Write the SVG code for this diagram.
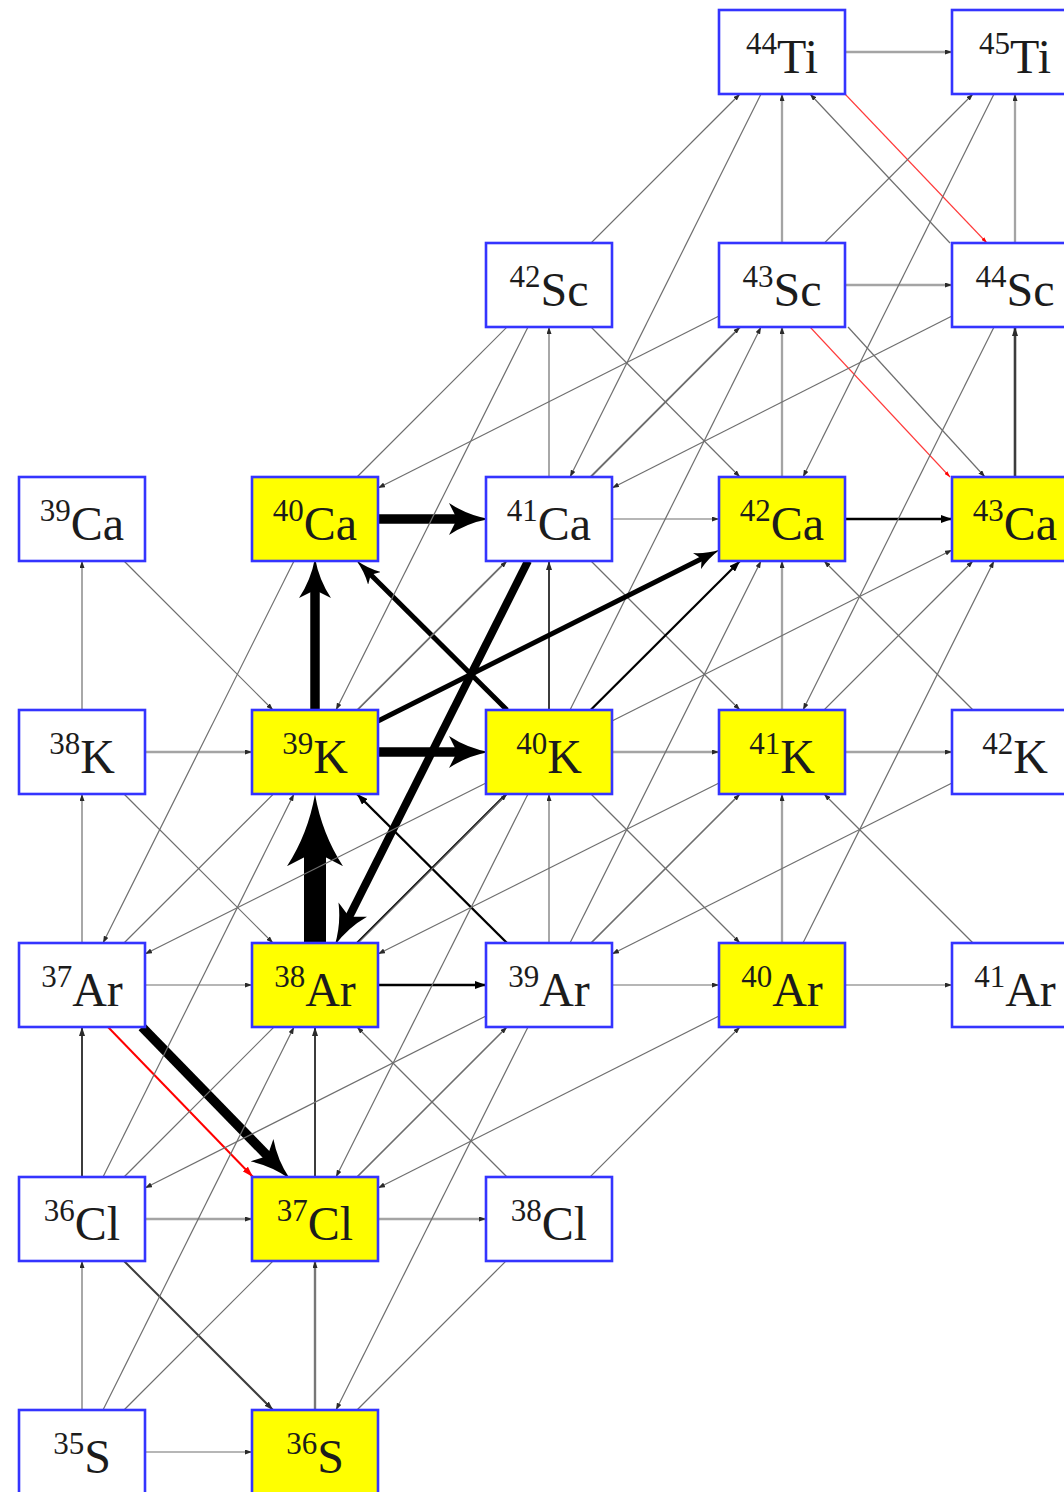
<svg xmlns="http://www.w3.org/2000/svg" width="1064" height="1492" viewBox="0 0 1064 1492">
  <style>
    .node rect { stroke: #3434ff; stroke-width: 2.6; }
    .w rect { fill: #ffffff; }
    .y rect { fill: #ffff00; }
    .node text { font-family: "Liberation Serif", "DejaVu Serif", serif; fill: #1c1c1c; text-anchor: middle; }
    .s { font-size: 31px; }
    .e { font-size: 48px; }
    #connectors path { fill: none; }
    .t  { stroke: #6e6e6e; stroke-width: 1.2; marker-end: url(#a); }
    .l  { stroke: #a4a4a4; stroke-width: 2.3; marker-end: url(#a); }
    .m  { stroke: #777777; stroke-width: 2.4; marker-end: url(#a); }
    .d  { stroke: #3c3c3c; stroke-width: 2; marker-end: url(#ad); }
    .k  { stroke: #000000; stroke-width: 2.4; marker-end: url(#ak); }
    .k1 { stroke: #000000; stroke-width: 5; marker-end: url(#h1); }
    .k2 { stroke: #000000; stroke-width: 9.5; marker-end: url(#h2); }
    .k2b { stroke: #000000; stroke-width: 8; marker-end: url(#h2); }
    .k3 { stroke: #000000; stroke-width: 22; marker-end: url(#h3); }
    .r  { stroke: #ff3a3a; stroke-width: 1.1; marker-end: url(#ar); }
    .r2 { stroke: #ff0000; stroke-width: 2; marker-end: url(#ar2); }
  </style>
  <defs>
    <!-- small heads for thin flows -->
    <marker id="a" viewBox="0 0 7 5" refX="7" refY="2.5" markerWidth="7" markerHeight="5" markerUnits="userSpaceOnUse" orient="auto">
      <path d="M0,0 L7,2.5 L0,5 Z" fill="#2a2a2a"/>
    </marker>
    <marker id="ad" viewBox="0 0 9 6" refX="9" refY="3" markerWidth="9" markerHeight="6" markerUnits="userSpaceOnUse" orient="auto">
      <path d="M0,0 L9,3 L0,6 Z" fill="#2a2a2a"/>
    </marker>
    <marker id="ak" viewBox="0 0 11 8" refX="11" refY="4" markerWidth="11" markerHeight="8" markerUnits="userSpaceOnUse" orient="auto">
      <path d="M0,0 L11,4 L0,8 Z" fill="#000"/>
    </marker>
    <marker id="ar" viewBox="0 0 6 4" refX="6" refY="2" markerWidth="6" markerHeight="4" markerUnits="userSpaceOnUse" orient="auto">
      <path d="M0,0 L6,2 L0,4 Z" fill="#ff0000"/>
    </marker>
    <marker id="ar2" viewBox="0 0 11 7" refX="11" refY="3.5" markerWidth="11" markerHeight="7" markerUnits="userSpaceOnUse" orient="auto">
      <path d="M0,0 L11,3.5 L0,7 Z" fill="#ff0000"/>
    </marker>
    <!-- stealth heads for strong flows; the shaft ends inside the head -->
    <marker id="h1" viewBox="0 0 26 18" refX="9.1" refY="9" markerWidth="26" markerHeight="18" markerUnits="userSpaceOnUse" orient="auto">
      <path d="M26,9 Q11.7,6.75 0,0 L5.2,9 L0,18 Q11.7,11.25 26,9 Z" fill="#000"/>
    </marker>
    <marker id="h2" viewBox="0 0 40 32" refX="14" refY="16" markerWidth="40" markerHeight="32" markerUnits="userSpaceOnUse" orient="auto">
      <path d="M40,16 Q18,12 0,0 L8,16 L0,32 Q18,20 40,16 Z" fill="#000"/>
    </marker>
    <marker id="h3" viewBox="0 0 72 56" refX="25.2" refY="28" markerWidth="72" markerHeight="56" markerUnits="userSpaceOnUse" orient="auto">
      <path d="M72,28 Q32.4,21 0,0 L14.4,28 L0,56 Q32.4,35 72,28 Z" fill="#000"/>
    </marker>
  </defs>

  <g id="connectors">
    <!-- (n,g): one step right -->
    <path class="l" d="M845,52 H952"/>
    <path class="l" d="M845,285 H952"/>
    <path class="k2" d="M378,519 H463"/>
    <path class="t" d="M612,519 H719"/>
    <path class="k" d="M845,519 H952"/>
    <path class="l" d="M145,752 H252"/>
    <path class="k2" d="M378,752 H463"/>
    <path class="l" d="M612,752 H719"/>
    <path class="l" d="M845,752 H952"/>
    <path class="t" d="M145,985 H252"/>
    <path class="k" d="M378,985 H486"/>
    <path class="t" d="M612,985 H719"/>
    <path class="t" d="M845,985 H952"/>
    <path class="l" d="M145,1219 H252"/>
    <path class="l" d="M378,1219 H486"/>
    <path class="t" d="M145,1452 H252"/>

    <!-- (p,g): one step up -->
    <path class="l" d="M782,243 V94"/>
    <path class="l" d="M1015,243 V94"/>
    <path class="t" d="M549,477 V327"/>
    <path class="l" d="M782,477 V327"/>
    <path class="d" d="M1015,477 V327" style="stroke-width:2.6"/>
    <path class="t" d="M82,710 V561"/>
    <path class="k2" d="M315,710 V584"/>
    <path class="d" d="M549,710 V561"/>
    <path class="l" d="M782,710 V561"/>
    <path class="t" d="M82,943 V794"/>
    <path class="k3" d="M315,943 V841"/>
    <path class="t" d="M549,943 V794"/>
    <path class="l" d="M782,943 V794"/>
    <path class="d" d="M82,1177 V1027"/>
    <path class="d" d="M315,1177 V1027"/>
    <path class="t" d="M82,1410 V1261"/>
    <path class="m" d="M315,1410 V1261"/>

    <!-- (p,n) / (n,p) and decays: diagonal neighbours -->
    <path class="t" d="M950,243 L810,94"/>
    <path class="r" d="M845,94 L987,243"/>
    <path class="t" d="M591,327 L740,477"/>
    <path class="r" d="M810,327 L950,477"/>
    <path class="t" d="M848,327 L985,477"/>
    <path class="t" d="M124,561 L273,710"/>
    <path class="k1" d="M507,710 L368,572"/>
    <path class="t" d="M591,561 L740,710"/>
    <path class="t" d="M973,710 L824,561"/>
    <path class="t" d="M124,794 L273,943"/>
    <path class="k" d="M507,943 L357,794"/>
    <path class="t" d="M591,794 L740,943"/>
    <path class="t" d="M973,943 L824,794"/>
    <path class="k2" d="M142,1027 L271.7,1160.2"/>
    <path class="r2" d="M108,1027 L253,1177"/>
    <path class="t" d="M507,1177 L357,1027"/>
    <path class="d" d="M124,1261 L273,1410"/>

    <!-- (a,g): two steps up-right, running behind the middle box -->
    <path class="t" d="M357,477 L740,94"/>
    <path class="t" d="M591,477 L973,94"/>
    <path class="t" d="M357,710 L740,327"/>
    <path class="t" d="M124,943 L507,561"/>
    <path class="k" d="M357,943 L740,561" style="stroke-width:2.2"/>
    <path class="t" d="M591,943 L973,561"/>
    <path class="t" d="M124,1177 L507,794"/>
    <path class="t" d="M357,1177 L740,794"/>
    <path class="t" d="M124,1410 L507,1027"/>
    <path class="t" d="M357,1410 L740,1027"/>

    <!-- (a,n) / (n,a): steep diagonals -->
    <path class="t" d="M761,94 L570,477"/>
    <path class="t" d="M994,94 L803,477"/>
    <path class="t" d="M528,327 L336,710"/>
    <path class="t" d="M570,710 L761,327"/>
    <path class="t" d="M994,327 L803,710"/>
    <path class="t" d="M294,561 L103,943"/>
    <path class="k2b" d="M528,561 L346.5,922.1"/>
    <path class="t" d="M570,943 L761,561"/>
    <path class="t" d="M803,943 L994,561"/>
    <path class="t" d="M103,1177 L294,794"/>
    <path class="t" d="M528,794 L336,1177"/>
    <path class="t" d="M103,1410 L294,1027"/>
    <path class="t" d="M528,1027 L336,1410"/>

    <!-- (a,p) / (p,a): shallow diagonals -->
    <path class="t" d="M719,316 L378,488"/>
    <path class="t" d="M952,316 L612,488"/>
    <path class="k1" d="M378,721 L705.1,557"/>
    <path class="t" d="M612,721 L952,550"/>
    <path class="t" d="M486,783 L145,954"/>
    <path class="t" d="M719,783 L378,954"/>
    <path class="t" d="M952,783 L612,954"/>
    <path class="t" d="M486,1016 L145,1188"/>
    <path class="t" d="M719,1016 L378,1188"/>
  </g>

  <!-- row Z=22 -->
  <g id="Ti44" class="node w"><rect x="719" y="10" width="126" height="84"/><text x="782" y="73"><tspan class="s" dy="-19">44</tspan><tspan class="e" dy="19">Ti</tspan></text></g>
  <g id="Ti45" class="node w"><rect x="952" y="10" width="126" height="84"/><text x="1015" y="73"><tspan class="s" dy="-19">45</tspan><tspan class="e" dy="19">Ti</tspan></text></g>
  <!-- row Z=21 -->
  <g id="Sc42" class="node w"><rect x="486" y="243" width="126" height="84"/><text x="549" y="306"><tspan class="s" dy="-19">42</tspan><tspan class="e" dy="19">Sc</tspan></text></g>
  <g id="Sc43" class="node w"><rect x="719" y="243" width="126" height="84"/><text x="782" y="306"><tspan class="s" dy="-19">43</tspan><tspan class="e" dy="19">Sc</tspan></text></g>
  <g id="Sc44" class="node w"><rect x="952" y="243" width="126" height="84"/><text x="1015" y="306"><tspan class="s" dy="-19">44</tspan><tspan class="e" dy="19">Sc</tspan></text></g>
  <!-- row Z=20 -->
  <g id="Ca39" class="node w"><rect x="19" y="477" width="126" height="84"/><text x="82" y="540"><tspan class="s" dy="-19">39</tspan><tspan class="e" dy="19">Ca</tspan></text></g>
  <g id="Ca40" class="node y"><rect x="252" y="477" width="126" height="84"/><text x="315" y="540"><tspan class="s" dy="-19">40</tspan><tspan class="e" dy="19">Ca</tspan></text></g>
  <g id="Ca41" class="node w"><rect x="486" y="477" width="126" height="84"/><text x="549" y="540"><tspan class="s" dy="-19">41</tspan><tspan class="e" dy="19">Ca</tspan></text></g>
  <g id="Ca42" class="node y"><rect x="719" y="477" width="126" height="84"/><text x="782" y="540"><tspan class="s" dy="-19">42</tspan><tspan class="e" dy="19">Ca</tspan></text></g>
  <g id="Ca43" class="node y"><rect x="952" y="477" width="126" height="84"/><text x="1015" y="540"><tspan class="s" dy="-19">43</tspan><tspan class="e" dy="19">Ca</tspan></text></g>
  <!-- row Z=19 -->
  <g id="K38" class="node w"><rect x="19" y="710" width="126" height="84"/><text x="82" y="773"><tspan class="s" dy="-19">38</tspan><tspan class="e" dy="19">K</tspan></text></g>
  <g id="K39" class="node y"><rect x="252" y="710" width="126" height="84"/><text x="315" y="773"><tspan class="s" dy="-19">39</tspan><tspan class="e" dy="19">K</tspan></text></g>
  <g id="K40" class="node y"><rect x="486" y="710" width="126" height="84"/><text x="549" y="773"><tspan class="s" dy="-19">40</tspan><tspan class="e" dy="19">K</tspan></text></g>
  <g id="K41" class="node y"><rect x="719" y="710" width="126" height="84"/><text x="782" y="773"><tspan class="s" dy="-19">41</tspan><tspan class="e" dy="19">K</tspan></text></g>
  <g id="K42" class="node w"><rect x="952" y="710" width="126" height="84"/><text x="1015" y="773"><tspan class="s" dy="-19">42</tspan><tspan class="e" dy="19">K</tspan></text></g>
  <!-- row Z=18 -->
  <g id="Ar37" class="node w"><rect x="19" y="943" width="126" height="84"/><text x="82" y="1006"><tspan class="s" dy="-19">37</tspan><tspan class="e" dy="19">Ar</tspan></text></g>
  <g id="Ar38" class="node y"><rect x="252" y="943" width="126" height="84"/><text x="315" y="1006"><tspan class="s" dy="-19">38</tspan><tspan class="e" dy="19">Ar</tspan></text></g>
  <g id="Ar39" class="node w"><rect x="486" y="943" width="126" height="84"/><text x="549" y="1006"><tspan class="s" dy="-19">39</tspan><tspan class="e" dy="19">Ar</tspan></text></g>
  <g id="Ar40" class="node y"><rect x="719" y="943" width="126" height="84"/><text x="782" y="1006"><tspan class="s" dy="-19">40</tspan><tspan class="e" dy="19">Ar</tspan></text></g>
  <g id="Ar41" class="node w"><rect x="952" y="943" width="126" height="84"/><text x="1015" y="1006"><tspan class="s" dy="-19">41</tspan><tspan class="e" dy="19">Ar</tspan></text></g>
  <!-- row Z=17 -->
  <g id="Cl36" class="node w"><rect x="19" y="1177" width="126" height="84"/><text x="82" y="1240"><tspan class="s" dy="-19">36</tspan><tspan class="e" dy="19">Cl</tspan></text></g>
  <g id="Cl37" class="node y"><rect x="252" y="1177" width="126" height="84"/><text x="315" y="1240"><tspan class="s" dy="-19">37</tspan><tspan class="e" dy="19">Cl</tspan></text></g>
  <g id="Cl38" class="node w"><rect x="486" y="1177" width="126" height="84"/><text x="549" y="1240"><tspan class="s" dy="-19">38</tspan><tspan class="e" dy="19">Cl</tspan></text></g>
  <!-- row Z=16 -->
  <g id="S35" class="node w"><rect x="19" y="1410" width="126" height="84"/><text x="82" y="1473"><tspan class="s" dy="-19">35</tspan><tspan class="e" dy="19">S</tspan></text></g>
  <g id="S36" class="node y"><rect x="252" y="1410" width="126" height="84"/><text x="315" y="1473"><tspan class="s" dy="-19">36</tspan><tspan class="e" dy="19">S</tspan></text></g>
</svg>
